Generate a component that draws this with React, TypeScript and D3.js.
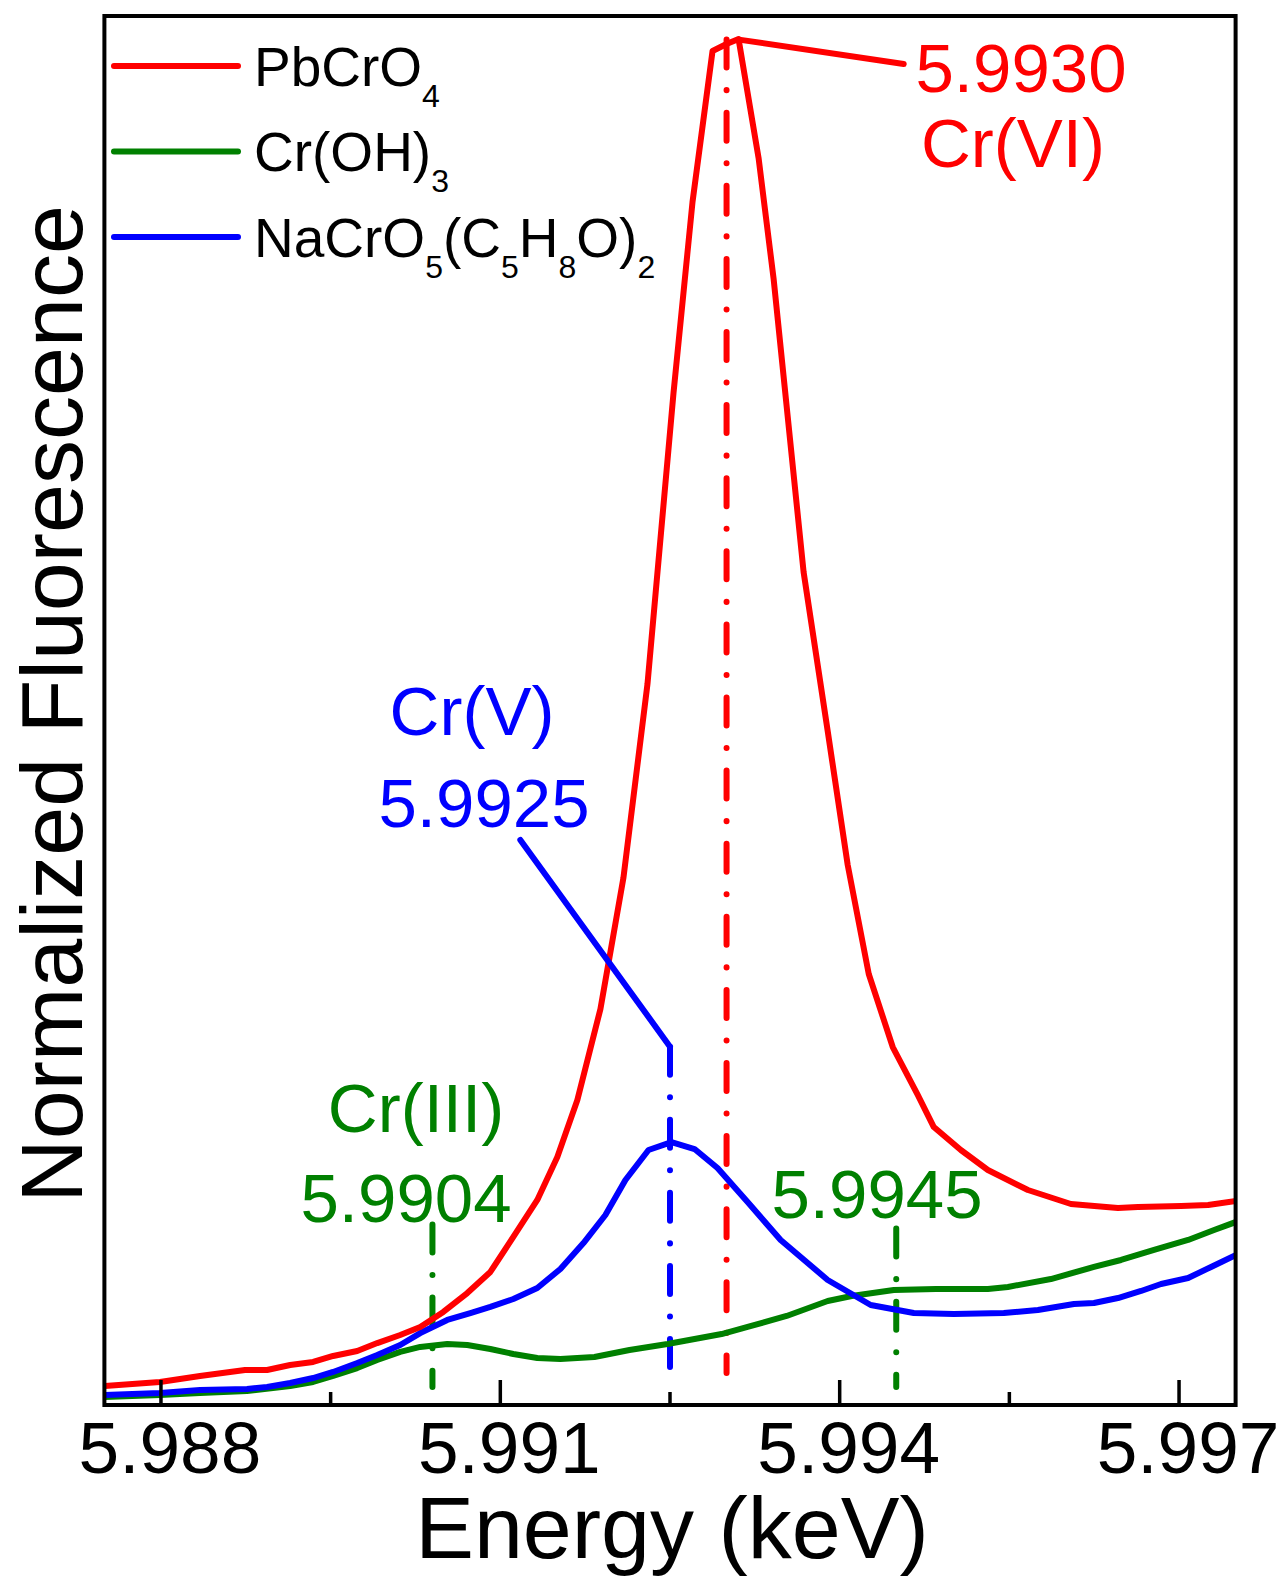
import React from "react";
import * as d3 from "d3";

// ---- Data (energy in keV, normalized fluorescence) ----
const pbcro4E = [5.987504, 5.987991, 5.988345, 5.988743, 5.988938, 5.989142, 5.989345, 5.989522, 5.989735, 5.989912, 5.990115, 5.990292, 5.990496, 5.990708, 5.990912, 5.991115, 5.991327, 5.991504, 5.991681, 5.991885, 5.992088, 5.992301, 5.992531, 5.992699, 5.992876, 5.993000, 5.993106, 5.993283, 5.993416, 5.993681, 5.993894, 5.994071, 5.994257, 5.994469, 5.994690, 5.994832, 5.995071, 5.995310, 5.995664, 5.996044, 5.996460, 5.996637, 5.997018, 5.997257, 5.997504];
const pbcro4Y = [0.0137, 0.0166, 0.0209, 0.0252, 0.0252, 0.0288, 0.0310, 0.0353, 0.0389, 0.0446, 0.0504, 0.0562, 0.0670, 0.0806, 0.0958, 0.1210, 0.1476, 0.1785, 0.2196, 0.2851, 0.3794, 0.5191, 0.7286, 0.8661, 0.9748, 0.9798, 0.9834, 0.8978, 0.8107, 0.5997, 0.4852, 0.3888, 0.3103, 0.2577, 0.2232, 0.2001, 0.1836, 0.1692, 0.1548, 0.1447, 0.1418, 0.1425, 0.1433, 0.1440, 0.1469];

const crohE = [5.987504, 5.987991, 5.988345, 5.988761, 5.989142, 5.989345, 5.989522, 5.989735, 5.989912, 5.990115, 5.990292, 5.990531, 5.990708, 5.990912, 5.991115, 5.991327, 5.991531, 5.991832, 5.992142, 5.992478, 5.992956, 5.993186, 5.993531, 5.993894, 5.994106, 5.994478, 5.994850, 5.995310, 5.995487, 5.995867, 5.996248, 5.996487, 5.996779, 5.997080, 5.997310, 5.997504];
const crohY = [0.0058, 0.0072, 0.0086, 0.0101, 0.0137, 0.0166, 0.0209, 0.0266, 0.0324, 0.0382, 0.0418, 0.0439, 0.0432, 0.0403, 0.0367, 0.0338, 0.0331, 0.0346, 0.0396, 0.0439, 0.0511, 0.0562, 0.0641, 0.0749, 0.0785, 0.0828, 0.0835, 0.0835, 0.0850, 0.0907, 0.0994, 0.1044, 0.1116, 0.1188, 0.1260, 0.1318];

const nacroE = [5.987504, 5.987991, 5.988345, 5.988761, 5.988938, 5.989142, 5.989345, 5.989522, 5.989735, 5.989912, 5.990115, 5.990292, 5.990531, 5.990735, 5.990912, 5.991115, 5.991327, 5.991531, 5.991735, 5.991929, 5.992106, 5.992310, 5.992513, 5.992717, 5.992920, 5.993186, 5.993478, 5.993894, 5.994274, 5.994655, 5.995009, 5.995451, 5.995752, 5.996071, 5.996248, 5.996460, 5.996664, 5.996841, 5.997080, 5.997283, 5.997504];
const nacroY = [0.0072, 0.0086, 0.0108, 0.0115, 0.0130, 0.0158, 0.0194, 0.0238, 0.0302, 0.0360, 0.0432, 0.0518, 0.0612, 0.0662, 0.0706, 0.0763, 0.0842, 0.0979, 0.1166, 0.1368, 0.1620, 0.1836, 0.1893, 0.1843, 0.1706, 0.1461, 0.1188, 0.0900, 0.0720, 0.0662, 0.0655, 0.0662, 0.0684, 0.0727, 0.0734, 0.0770, 0.0821, 0.0871, 0.0914, 0.0994, 0.1080];

const majorTicks = [5.988, 5.991, 5.994, 5.997];
const majorTickLabels = ["5.988", "5.991", "5.994", "5.997"];
const minorTicks = [5.9895, 5.9925, 5.9955];

// Peak markers: energy, colour, top value, bottom value
const markerE = [5.9904, 5.9925, 5.993, 5.9945];
const markerColor = ["#008000", "#0000ff", "#ff0000", "#008000"];
const markerTop = [0.13, 0.258, 0.983, 0.127];
const markerBottom = [0.013, 0.027, 0.023, 0.013];

const RED = "#ff0000";
const GREEN = "#008000";
const BLUE = "#0000ff";
const FONT = "'Liberation Sans', Arial, Helvetica, sans-serif";

export default function App() {
  const W = 1282;
  const H = 1576;
  const left = 104.4, right = 1235.6, top = 16, bottom = 1405;
  const x = d3.scaleLinear().domain([5.9875, 5.9975]).range([left, right]);
  const y = d3.scaleLinear().domain([0, 1]).range([bottom, top]);

  const line = d3
    .line<[number, number]>()
    .x((d) => x(d[0]))
    .y((d) => y(d[1]));

  const series = [
    { E: crohE, Y: crohY, color: GREEN },
    { E: nacroE, Y: nacroY, color: BLUE },
    { E: pbcro4E, Y: pbcro4Y, color: RED },
  ];

  const dash = "28,22.5,0.1,22.5";

  // leader lines (data units)
  const redLeader: [number, number][] = [
    [5.99311, 0.983],
    [5.994566, 0.9654],
  ];
  const blueLeader: [number, number][] = [
    [5.991177, 0.4068],
    [5.9925, 0.258],
  ];

  const legendItems = [
    { color: RED, y: 66, parts: [["PbCrO", false], ["4", true]] },
    { color: GREEN, y: 151.5, parts: [["Cr(OH)", false], ["3", true]] },
    {
      color: BLUE,
      y: 237,
      parts: [
        ["NaCrO", false],
        ["5", true],
        ["(C", false],
        ["5", true],
        ["H", false],
        ["8", true],
        ["O)", false],
        ["2", true],
      ],
    },
  ];

  const renderParts = (parts: any[]) => {
    let prevSub = false;
    return parts.map((p, i) => {
      const [txt, sub] = p as [string, boolean];
      let dy = 0;
      if (sub && !prevSub) dy = 21;
      if (!sub && prevSub) dy = -21;
      prevSub = sub;
      return (
        <tspan key={i} dy={dy} fontSize={sub ? 32 : 55}>
          {txt}
        </tspan>
      );
    });
  };

  return (
    <svg
      width={W}
      height={H}
      style={{ position: "absolute", left: 0, top: 0, background: "#fff" }}
      fontFamily={FONT}
    >
      <rect x={0} y={0} width={W} height={H} fill="#fff" />
      <defs>
        <clipPath id="plotclip">
          <rect x={left} y={top} width={right - left} height={bottom - top} />
        </clipPath>
      </defs>

      {/* marker dash-dot verticals */}
      {markerE.map((e, i) => (
        <line
          key={"m" + i}
          x1={x(e)}
          x2={x(e)}
          y1={y(markerTop[i])}
          y2={y(markerBottom[i])}
          stroke={markerColor[i]}
          strokeWidth={6}
          strokeDasharray={dash}
          strokeLinecap="round"
        />
      ))}

      {/* curves */}
      <g clipPath="url(#plotclip)">
        {series.map((s, i) => (
          <path
            key={i}
            d={line(s.E.map((e, j) => [e, s.Y[j]] as [number, number])) || ""}
            fill="none"
            stroke={s.color}
            strokeWidth={6}
            strokeLinejoin="round"
          />
        ))}
      </g>

      {/* leader lines */}
      <path d={line(redLeader) || ""} stroke={RED} strokeWidth={6} fill="none" strokeLinecap="round" />
      <path d={line(blueLeader) || ""} stroke={BLUE} strokeWidth={6} fill="none" strokeLinecap="round" />

      {/* frame */}
      <rect
        x={left}
        y={top}
        width={right - left}
        height={bottom - top}
        fill="none"
        stroke="#000"
        strokeWidth={4}
      />

      {/* ticks */}
      {majorTicks.map((t, i) => (
        <g key={"t" + i}>
          <line x1={x(t)} x2={x(t)} y1={bottom} y2={bottom - 25} stroke="#000" strokeWidth={3.5} />
          <text x={x(t) + 9} y={1473} fontSize={73} textAnchor="middle" fill="#000">
            {majorTickLabels[i]}
          </text>
        </g>
      ))}
      {minorTicks.map((t, i) => (
        <line key={"mt" + i} x1={x(t)} x2={x(t)} y1={bottom} y2={bottom - 13} stroke="#000" strokeWidth={3.5} />
      ))}

      {/* axis titles */}
      <text x={(left + right) / 2 + 2} y={1558} fontSize={88} textAnchor="middle" fill="#000">
        Energy (keV)
      </text>
      <text
        transform={`translate(82,704) rotate(-90)`}
        fontSize={88}
        textAnchor="middle"
        fill="#000"
      >
        Normalized Fluorescence
      </text>

      {/* legend */}
      {legendItems.map((it, i) => (
        <g key={"l" + i}>
          <line x1={114} x2={238} y1={it.y} y2={it.y} stroke={it.color} strokeWidth={6} strokeLinecap="round" />
          <text x={254} y={it.y + 19.5} fill="#000">
            {renderParts(it.parts)}
          </text>
        </g>
      ))}

      {/* annotations */}
      <g fontSize={69} textAnchor="middle">
        <text x={1021} y={92} fill={RED}>5.9930</text>
        <text x={1013} y={167} fill={RED}>Cr(VI)</text>
        <text x={472} y={735} fill={BLUE}>Cr(V)</text>
        <text x={484} y={827} fill={BLUE}>5.9925</text>
        <text x={416} y={1132} fill={GREEN}>Cr(III)</text>
        <text x={406} y={1222} fill={GREEN}>5.9904</text>
        <text x={877} y={1218} fill={GREEN}>5.9945</text>
      </g>
    </svg>
  );
}
